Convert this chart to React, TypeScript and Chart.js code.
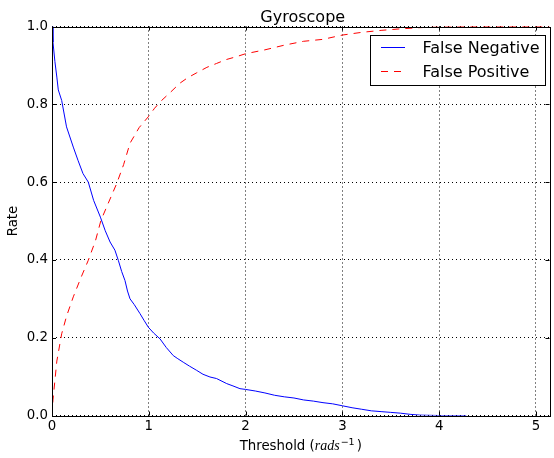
import React, { useEffect, useRef } from "react";
import { Chart, registerables } from "chart.js";

Chart.register(...registerables);

const chartTitle = "Gyroscope";
const yLabel = "Rate";
const xTicks = [0, 1, 2, 3, 4, 5];
const yTicks = [0, 0.2, 0.4, 0.6, 0.8, 1.0];
const seriesNames = ["False Negative", "False Positive"];

const fnX = [0, 0.01, 0.03, 0.05, 0.065, 0.1, 0.15, 0.22, 0.27, 0.32, 0.375, 0.43, 0.5, 0.55, 0.6, 0.65, 0.685, 0.72, 0.754, 0.78, 0.806, 0.85, 0.909, 0.95, 0.995, 1.05, 1.116, 1.18, 1.253, 1.3, 1.356, 1.42, 1.495, 1.56, 1.632, 1.7, 1.805, 1.87, 1.942, 2.0, 2.1, 2.2, 2.3, 2.4, 2.5, 2.6, 2.7, 2.8, 2.9, 3.0, 3.1, 3.2, 3.3, 3.4, 3.5, 3.6, 3.7, 3.8, 4.0, 4.28];
const fnY = [1.0, 0.96, 0.91, 0.87, 0.837, 0.81, 0.742, 0.69, 0.655, 0.622, 0.6, 0.553, 0.51, 0.475, 0.446, 0.425, 0.399, 0.37, 0.347, 0.32, 0.3, 0.285, 0.262, 0.245, 0.227, 0.212, 0.197, 0.175, 0.154, 0.146, 0.137, 0.127, 0.116, 0.106, 0.099, 0.095, 0.082, 0.076, 0.069, 0.067, 0.063, 0.058, 0.052, 0.048, 0.045, 0.04, 0.037, 0.033, 0.03, 0.025, 0.02, 0.016, 0.012, 0.01, 0.008, 0.006, 0.003, 0.001, 0, 0];

const fpX = [0, 0.01, 0.03, 0.05, 0.1, 0.15, 0.22, 0.3, 0.375, 0.45, 0.506, 0.58, 0.668, 0.74, 0.806, 0.9, 0.995, 1.06, 1.133, 1.22, 1.32, 1.4, 1.495, 1.6, 1.7, 1.8, 1.9, 2.0, 2.2, 2.4, 2.6, 2.8, 3.0, 3.2, 3.4, 3.6, 3.8, 4.0, 4.3, 4.6, 5.0, 5.14];
const fpY = [0, 0.04, 0.09, 0.14, 0.21, 0.255, 0.305, 0.355, 0.399, 0.45, 0.502, 0.545, 0.596, 0.645, 0.7, 0.74, 0.768, 0.79, 0.81, 0.83, 0.854, 0.868, 0.881, 0.895, 0.905, 0.915, 0.922, 0.93, 0.94, 0.952, 0.962, 0.967, 0.978, 0.985, 0.99, 0.994, 0.997, 0.999, 1.0, 1.0, 1.0, 1.0];

const X_MAX = 5.14;
const FONT = "'DejaVu Sans', sans-serif";
const BLUE = "#0000ff";
const RED = "#ff0000";
const DASH = [7, 6];
const TICK_SIZE = 13.33;

const decorPlugin = {
  id: "decor",
  afterDatasetsDraw(chart: any) {
    const { ctx, chartArea: a, scales } = chart;
    const xs = scales.x;
    const ys = scales.y;
    ctx.save();
    ctx.strokeStyle = "#000";
    ctx.lineWidth = 1;
    ctx.setLineDash([]);
    ctx.strokeRect(Math.round(a.left) + 0.5, Math.round(a.top) + 0.5, Math.round(a.right - a.left), Math.round(a.bottom - a.top));
    ctx.beginPath();
    for (const v of xTicks) {
      const px = Math.round(xs.getPixelForValue(v)) + 0.5;
      ctx.moveTo(px, a.bottom);
      ctx.lineTo(px, a.bottom - 4);
      ctx.moveTo(px, a.top);
      ctx.lineTo(px, a.top + 4);
    }
    for (const v of yTicks) {
      const py = Math.round(ys.getPixelForValue(v)) + 0.5;
      ctx.moveTo(a.left, py);
      ctx.lineTo(a.left + 4, py);
      ctx.moveTo(a.right, py);
      ctx.lineTo(a.right - 4, py);
    }
    ctx.stroke();

    // title
    ctx.fillStyle = "#000";
    ctx.font = `16px ${FONT}`;
    ctx.textAlign = "center";
    ctx.textBaseline = "alphabetic";
    const cx = (a.left + a.right) / 2;
    ctx.fillText(chartTitle, cx + 2, 21.5);

    // y label
    ctx.save();
    ctx.font = `${TICK_SIZE}px ${FONT}`;
    ctx.textBaseline = "middle";
    ctx.translate(14, 221);
    ctx.rotate(-Math.PI / 2);
    ctx.fillText(yLabel, 0, 0);
    ctx.restore();

    // x label with math part
    const parts = [
      { t: "Threshold (", f: `${TICK_SIZE}px ${FONT}`, dy: 0, pre: 0 },
      { t: "rads", f: `italic 14px 'Liberation Serif', serif`, dy: 0, pre: 0 },
      { t: "\u22121", f: `9.5px ${FONT}`, dy: -5.5, pre: 1 },
      { t: ")", f: `${TICK_SIZE}px ${FONT}`, dy: 0, pre: 2 },
    ];
    let total = 0;
    const widths: number[] = [];
    for (const p of parts) {
      ctx.font = p.f;
      const w = ctx.measureText(p.t).width + p.pre;
      widths.push(w);
      total += w;
    }
    let x0 = cx - total / 2;
    ctx.textAlign = "left";
    const baseY = 450;
    parts.forEach((p, i) => {
      ctx.font = p.f;
      ctx.fillText(p.t, x0 + p.pre, baseY + p.dy);
      x0 += widths[i];
    });

    // legend
    const lx = 370.5, ly = 35.5, lw = 175, lh = 50;
    ctx.fillStyle = "#fff";
    ctx.fillRect(lx, ly, lw, lh);
    ctx.strokeStyle = "#000";
    ctx.lineWidth = 1;
    ctx.strokeRect(lx, ly, lw, lh);
    const rows = [
      { name: seriesNames[0], color: BLUE, dash: [] as number[], y: 47 },
      { name: seriesNames[1], color: RED, dash: DASH, y: 71 },
    ];
    ctx.font = `16px ${FONT}`;
    ctx.textBaseline = "alphabetic";
    for (const r of rows) {
      ctx.strokeStyle = r.color;
      ctx.setLineDash(r.dash);
      ctx.beginPath();
      ctx.moveTo(381, r.y + 0.5);
      ctx.lineTo(405, r.y + 0.5);
      ctx.stroke();
      ctx.setLineDash([]);
      ctx.fillStyle = "#000";
      ctx.fillText(r.name, 422.5, r.y + 6);
    }
    ctx.restore();
  },
};

export default function App() {
  const ref = useRef<HTMLCanvasElement>(null);
  useEffect(() => {
    if (!ref.current) return;
    const chart = new Chart(ref.current, {
      type: "line",
      data: {
        datasets: [
          {
            label: seriesNames[0],
            data: fnX.map((x, i) => ({ x, y: fnY[i] })),
            borderColor: BLUE,
            borderWidth: 1,
            pointRadius: 0,
            fill: false,
            tension: 0,
          },
          {
            label: seriesNames[1],
            data: fpX.map((x, i) => ({ x, y: fpY[i] })),
            borderColor: RED,
            borderWidth: 1,
            borderDash: DASH,
            pointRadius: 0,
            fill: false,
            tension: 0,
          },
        ],
      },
      options: {
        animation: false,
        responsive: false,
        devicePixelRatio: 1,
        layout: { padding: { left: 0, top: 26.5, right: 4.5, bottom: 0 } },
        plugins: { legend: { display: false }, title: { display: false }, tooltip: { enabled: false } },
        scales: {
          x: {
            type: "linear",
            min: 0,
            max: X_MAX,
            afterBuildTicks: (axis: any) => {
              axis.ticks = xTicks.map((v) => ({ value: v }));
            },
            afterFit: (scale: any) => {
              scale.height = 42.5;
            },
            grid: { color: "#000", lineWidth: 1, drawTicks: false } as any,
            border: { display: false, dash: [1, 3] },
            ticks: {
              padding: 3,
              color: "#000",
              font: { family: FONT, size: TICK_SIZE },
              maxRotation: 0,
              callback: (v: any) => String(v),
            },
          },
          y: {
            type: "linear",
            min: 0,
            max: 1,
            afterBuildTicks: (axis: any) => {
              axis.ticks = yTicks.map((v) => ({ value: v }));
            },
            afterFit: (scale: any) => {
              scale.width = 52;
            },
            grid: { color: "#000", lineWidth: 1, drawTicks: false } as any,
            border: { display: false, dash: [1, 3] },
            ticks: {
              padding: 4,
              color: "#000",
              font: { family: FONT, size: TICK_SIZE },
              callback: (v: any) => Number(v).toFixed(1),
            },
          },
        },
      },
      plugins: [decorPlugin],
    } as any);
    return () => chart.destroy();
  }, []);
  return (
    <div style={{ position: "absolute", left: 0, top: 0, width: 554, height: 458, background: "#fff" }}>
      <canvas ref={ref} width={554} height={458} style={{ width: 554, height: 458 }} />
    </div>
  );
}
